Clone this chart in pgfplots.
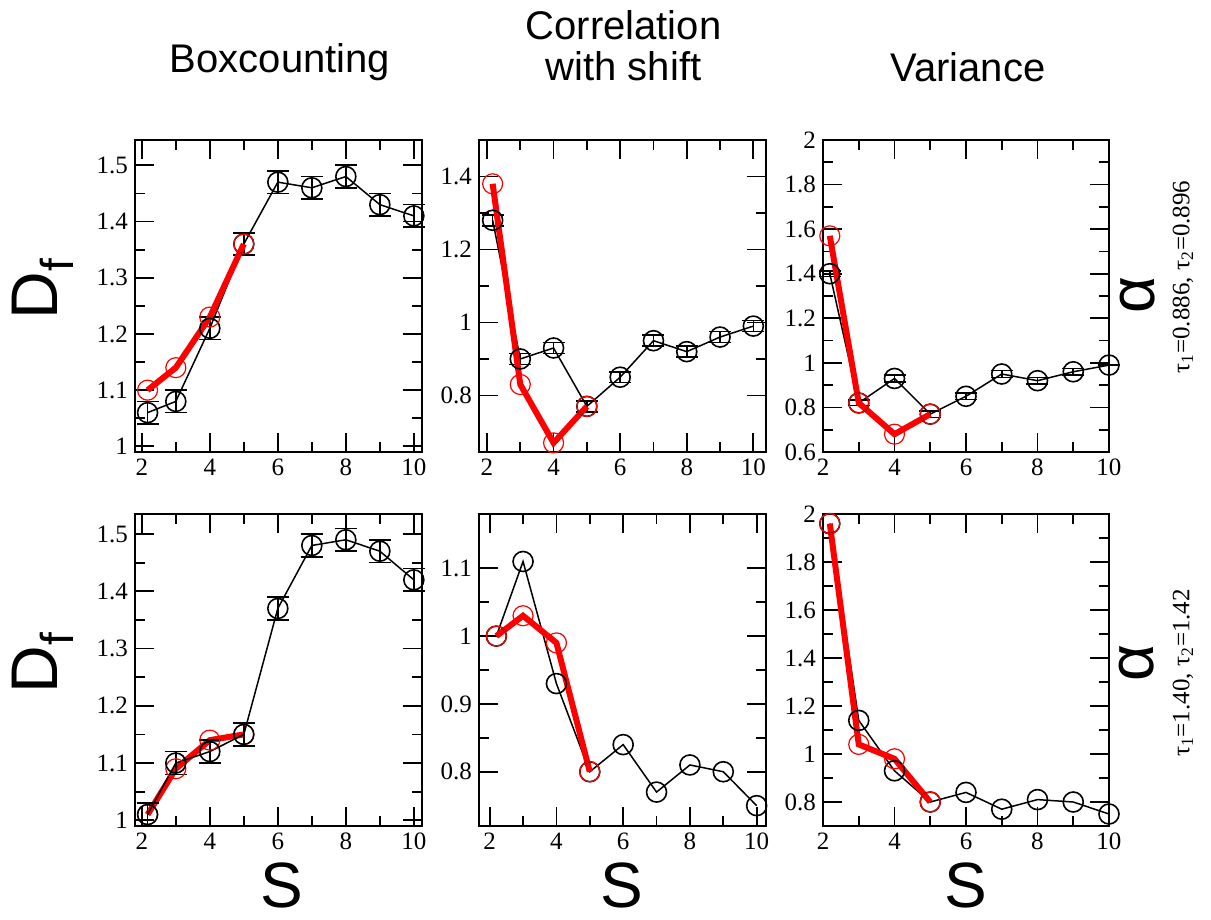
\documentclass[border=0pt]{standalone}
\usepackage{pgfplots}
\pgfplotsset{compat=1.18}
\usepackage{fontspec}
\setmainfont{Liberation Serif}
\newfontfamily\sansf{Liberation Sans}
\newfontfamily\serf{Liberation Serif}
\begin{document}
\begin{tikzpicture}
\useasboundingbox (0,0) rectangle (605.5pt,-460pt);
\pgfplotsset{
 panel/.style={scale only axis, width=143.5pt, height=156pt, anchor=north west, clip=false,
   axis line style={line width=1pt},
   tick style={black,line width=0.9pt},
   major tick length=9.5pt, minor tick length=5pt,
   xtick={2,4,6,8,10}, minor x tick num=1, minor y tick num=1,
   tick label style={font=\serf\fontsize{12.5}{15}\selectfont},
   xticklabel={\serf\pgfmathprintnumber{\tick}},
   yticklabel={\serf\pgfmathprintnumber{\tick}},
   /pgf/number format/assume math mode=true},
 blk/.style={black, line width=0.75pt, mark=o, mark size=5pt, mark options={line width=0.8pt}},
 rd/.style={red, line width=3pt, mark=o, mark size=5pt, mark options={line width=0.6pt}},
 eb/.style={error bars/y dir=both, error bars/y explicit,
   error bars/error bar style={line width=0.8pt, black},
   error bars/error mark options={rotate=90, mark size=5.5pt, line width=0.8pt, black}},
}
% ---------- top left
\begin{axis}[panel, at={(67.5pt,-70pt)}, xmin=1.8, xmax=10.24, ymin=0.99, ymax=1.545,
  ytick={1,1.1,1.2,1.3,1.4,1.5}]
\addplot[blk, eb] coordinates {(2.17,1.06) +- (0,0.02) (3,1.08) +- (0,0.02) (4,1.21) +- (0,0.02) (5,1.36) +- (0,0.02) (6,1.47) +- (0,0.02) (7,1.46) +- (0,0.02) (8,1.48) +- (0,0.02) (9,1.43) +- (0,0.02) (10,1.41) +- (0,0.02)};
\addplot[rd] coordinates {(2.17,1.10) (3,1.14) (4,1.23) (5,1.36)};
\end{axis}
% ---------- top middle
\begin{axis}[panel, at={(239.5pt,-70pt)}, xmin=1.76, xmax=10.38, ymin=0.645, ymax=1.5,
  ytick={0.8,1,1.2,1.4}]
\addplot[blk, eb] coordinates {(2.17,1.28) +- (0,0.015) (3,0.90) +- (0,0.015) (4,0.93) +- (0,0.015) (5,0.77) +- (0,0.015) (6,0.85) +- (0,0.015) (7,0.95) +- (0,0.015) (8,0.92) +- (0,0.015) (9,0.96) +- (0,0.015) (10,0.99) +- (0,0.015)};
\addplot[rd] coordinates {(2.17,1.38) (3,0.83) (4,0.67) (5,0.77)};
\end{axis}
% ---------- top right
\begin{axis}[panel, at={(411.5pt,-70pt)}, width=143pt, xmin=2, xmax=10, ymin=0.6, ymax=2,
  ytick={0.6,0.8,1,1.2,1.4,1.6,1.8,2}]
\addplot[blk, eb] coordinates {(2.19,1.40) +- (0,0.012) (3,0.82) +- (0,0.012) (4,0.93) +- (0,0.015) (5,0.77) +- (0,0.015) (6,0.85) +- (0,0.015) (7,0.95) +- (0,0.015) (8,0.92) +- (0,0.015) (9,0.96) +- (0,0.015) (10,0.99) +- (0,0)};
\addplot[rd] coordinates {(2.19,1.57) (3,0.82) (4,0.68) (5,0.77)};
\end{axis}
% ---------- bottom left
\begin{axis}[panel, at={(67.5pt,-257pt)}, xmin=1.8, xmax=10.24, ymin=0.99, ymax=1.535,
  ytick={1,1.1,1.2,1.3,1.4,1.5}]
\addplot[rd] coordinates {(2.17,1.01) (3,1.09) (4,1.14) (5,1.15)};
\addplot[blk, eb] coordinates {(2.17,1.01) +- (0,0.02) (3,1.10) +- (0,0.02) (4,1.12) +- (0,0.02) (5,1.15) +- (0,0.02) (6,1.37) +- (0,0.02) (7,1.48) +- (0,0.02) (8,1.49) +- (0,0.02) (9,1.47) +- (0,0.02) (10,1.42) +- (0,0.02)};
\end{axis}
% ---------- bottom middle
\begin{axis}[panel, at={(239.5pt,-257pt)}, xmin=1.68, xmax=10.28, ymin=0.72, ymax=1.18,
  ytick={0.8,0.9,1,1.1}]
\addplot[blk] coordinates {(2.2,1.0) (3,1.11) (4,0.93) (5,0.80) (6,0.84) (7,0.77) (8,0.81) (9,0.80) (10,0.75)};
\addplot[rd] coordinates {(2.2,1.0) (3,1.03) (4,0.99) (5,0.80)};
\end{axis}
% ---------- bottom right
\begin{axis}[panel, at={(411.5pt,-257pt)}, width=143pt, xmin=2, xmax=10, ymin=0.7, ymax=2,
  ytick={0.8,1,1.2,1.4,1.6,1.8,2}]
\addplot[blk] coordinates {(2.19,1.96) (3,1.14) (4,0.93) (5,0.80) (6,0.84) (7,0.77) (8,0.81) (9,0.80) (10,0.75)};
\addplot[rd] coordinates {(2.19,1.96) (3,1.04) (4,0.98) (5,0.80)};
\end{axis}
% ---------- titles
\node[font=\sansf\fontsize{20}{24}\selectfont, anchor=base] at (140pt,-36.5pt) {Boxcounting};
\node[font=\sansf\fontsize{20}{24}\selectfont, anchor=base] at (311.75pt,-20pt) {Correlation};
\node[font=\sansf\fontsize{20}{24}\selectfont, anchor=base] at (311.75pt,-40.5pt) {with shift};
\node[font=\sansf\fontsize{20}{24}\selectfont, anchor=base] at (484pt,-41pt) {Variance};
% ---------- y labels
\node[font=\sansf\fontsize{33}{40}\selectfont, rotate=90, anchor=base west, inner sep=0pt] at (28.5pt,-160pt) {D\textsubscript{f}};
\node[font=\sansf\fontsize{33}{40}\selectfont, rotate=90, anchor=base west, inner sep=0pt] at (28.5pt,-347pt) {D\textsubscript{f}};
\node[font=\sansf\fontsize{32}{38}\selectfont, rotate=90, inner sep=0pt] at (569pt,-147.5pt) {α};
\node[font=\sansf\fontsize{32}{38}\selectfont, rotate=90, inner sep=0pt] at (568.5pt,-331.5pt) {α};
\node[font=\serf\fontsize{12.5}{15}\selectfont, rotate=90, inner sep=0pt] at (591.5pt,-138.5pt) {τ\textsubscript{1}=0.886, τ\textsubscript{2}=0.896};
\node[font=\serf\fontsize{12.5}{15}\selectfont, rotate=90, inner sep=0pt] at (591.5pt,-336.5pt) {τ\textsubscript{1}=1.40, τ\textsubscript{2}=1.42};
% ---------- x labels
\node[font=\sansf\fontsize{32}{38}\selectfont, anchor=base, inner sep=0pt] at (140.85pt,-453.5pt) {S};
\node[font=\sansf\fontsize{32}{38}\selectfont, anchor=base, inner sep=0pt] at (311pt,-453.5pt) {S};
\node[font=\sansf\fontsize{32}{38}\selectfont, anchor=base, inner sep=0pt] at (483pt,-453.5pt) {S};
\end{tikzpicture}
\end{document}
